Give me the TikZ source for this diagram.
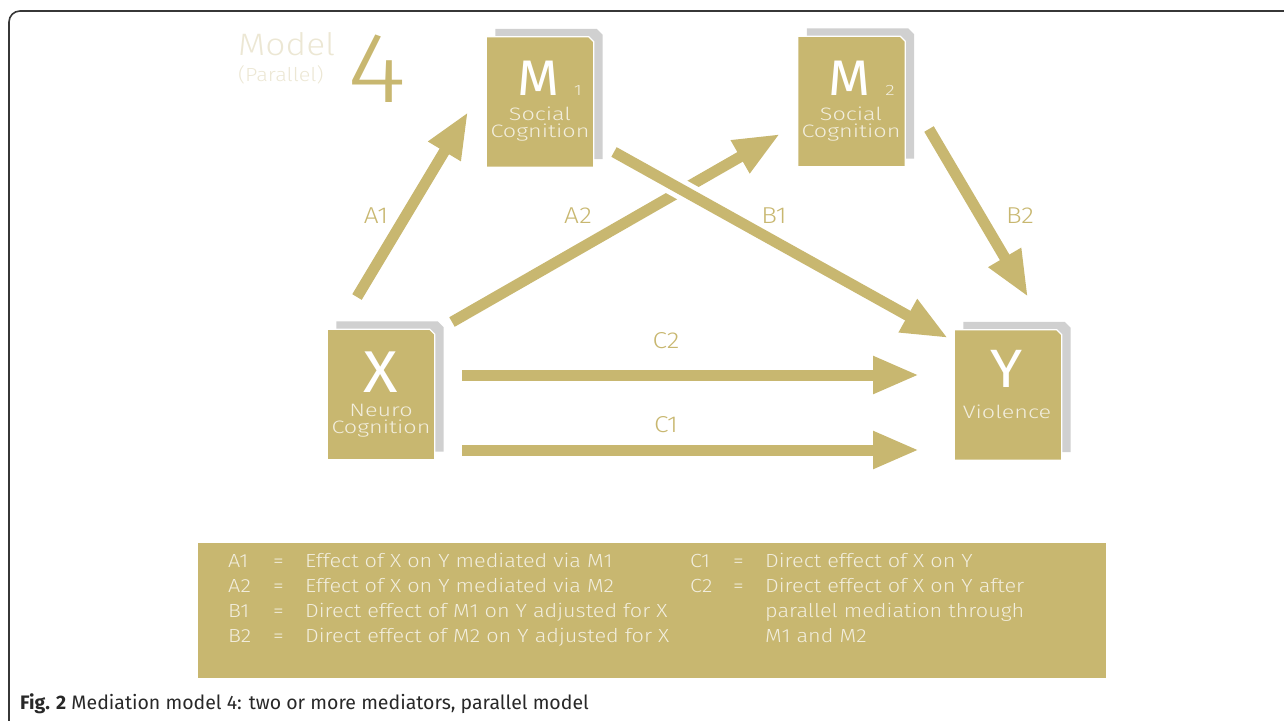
\documentclass[tikz,border=0pt]{standalone}
\usepackage{fontspec}
\setmainfont{Fira Sans Light}[FakeStretch=1.14]
\newfontfamily\capfont{Fira Sans}
\newfontfamily\bigfont{Fira Sans}[FakeStretch=1.08]
\newfontfamily\boxfont{Fira Sans Light}[FakeStretch=1.3]
\usetikzlibrary{arrows.meta}
\definecolor{gold}{RGB}{200,183,112}
\definecolor{shadowgray}{RGB}{208,208,208}
\definecolor{cream}{RGB}{242,238,222}
\definecolor{titlec}{RGB}{236,231,212}
\definecolor{framec}{RGB}{55,55,55}
\definecolor{capc}{RGB}{40,40,40}
\newcommand\bookbox[1]{%
  \fill[shadowgray] ([shift={(9,-8)}]#1.south west) -- ([shift={(9,-8)}]#1.north west)
    -- ([shift={(3,-8)}]#1.north east) -- ([shift={(9,-2)}]#1.north east)
    -- ([shift={(9,-8)}]#1.south east) -- cycle;
  \filldraw[fill=gold,draw=white,line width=1.2pt] (#1.south west) -- (#1.north west)
    -- ([shift={(-5,0)}]#1.north east) -- ([shift={(0,5)}]#1.north east)
    -- (#1.south east) -- cycle;}
\begin{document}
\begin{tikzpicture}[x=1pt,y=-1pt,
  boxnode/.style={rectangle,minimum width=107pt,minimum height=130pt,inner sep=0pt},
  big/.style={anchor=base,text=white,inner sep=0pt},
  small/.style={anchor=base,text=cream,font=\boxfont\fontsize{18}{19}\selectfont,inner sep=0pt},
  arr/.style={draw=gold,line width=11pt,-{Triangle[length=46pt,width=35pt]}},
  lab/.style={anchor=base,text=gold,font=\fontsize{23}{25}\selectfont,inner sep=0pt},
  leg/.style={anchor=base west,text=cream,font=\fontsize{19}{20}\selectfont,inner sep=0pt}]
\useasboundingbox (0,0) rectangle (1284,720);
% frame
\draw[framec,line width=1.6pt,rounded corners=11pt] (9,722) -- (9,11) -- (1290,11);
% title
\node[anchor=base west,text=titlec,font=\fontsize{31}{34}\selectfont,inner sep=0pt] (ttl) at (238,55) {Model};
\node[anchor=base west,text=titlec,font=\fontsize{19}{22}\selectfont,inner sep=0pt] (ttl2) at (238,81) {(Parallel)};
\node[anchor=base west,text=gold,font=\fontsize{100}{100}\selectfont,inner sep=0pt] (four) at (347,102) {4};
% boxes
\node[boxnode] (M1) at (540,102) {};
\node[boxnode] (M2) at (851.5,101.5) {};
\node[boxnode] (X) at (381,394.5) {};
\node[boxnode] (Y) at (1008,395) {};
\bookbox{M1}\bookbox{M2}\bookbox{X}\bookbox{Y}
% box texts
\node[big,font=\bigfont\fontsize{50}{50}\selectfont] (M1a) at (538,95) {M};
\node[small,font=\boxfont\fontsize{15}{16}\selectfont] (M1b) at (578,95) {1};
\node[small] (M1c) at (540,120) {Social};
\node[small] (M1d) at (540,137) {Cognition};
\node[big,font=\bigfont\fontsize{50}{50}\selectfont] (M2a) at (849,95) {M};
\node[small,font=\boxfont\fontsize{15}{16}\selectfont] (M2b) at (890,95) {2};
\node[small] (M2c) at (851,120) {Social};
\node[small] (M2d) at (851,137) {Cognition};
\node[big,font=\bigfont\fontsize{59}{59}\selectfont] (Xa) at (381,392) {X};
\node[small] (Xb) at (381,416) {Neuro};
\node[small] (Xc) at (381,433) {Cognition};
\node[big,font=\bigfont\fontsize{54}{54}\selectfont] (Ya) at (1007,387) {Y};
\node[small] (Yb) at (1007,418) {Violence};
% arrow end points
\coordinate (a1s) at (357,297); \coordinate (a1e) at (468,112);
\coordinate (a2s) at (452,322); \coordinate (a2e) at (780,134);
\coordinate (b1s) at (614,152); \coordinate (b1e) at (948,338);
\coordinate (b2s) at (929,129); \coordinate (b2e) at (1028,297);
\coordinate (c2s) at (462,375); \coordinate (c2e) at (919,375);
\coordinate (c1s) at (462,450); \coordinate (c1e) at (919,450);
\draw[arr] (a1s) -- (a1e);
\draw[arr] (a2s) -- (a2e);
\draw[white,line width=21pt,shorten <=30pt,shorten >=90pt] (b1s) -- (b1e);
\draw[arr] (b1s) -- (b1e);
\draw[arr] (b2s) -- (b2e);
\draw[arr] (c2s) -- (c2e);
\draw[arr] (c1s) -- (c1e);
% labels
\node[lab] (la1) at (376,223) {A1};
\node[lab] (la2) at (578,223) {A2};
\node[lab] (lb1) at (774,223) {B1};
\node[lab] (lb2) at (1020,223) {B2};
\node[lab] (lc2) at (666,348) {C2};
\node[lab] (lc1) at (666,432) {C1};
% legend
\fill[gold] (198,543) rectangle (1106,678);
\node[leg] (k1) at (228,567) {A1};
\node[leg] (e1) at (273,567) {=};
\node[leg] (t1) at (305,567) {Effect of X on Y mediated via M1};
\node[leg] (k2) at (228,592) {A2};
\node[leg] (e2) at (273,592) {=};
\node[leg] (t2) at (305,592) {Effect of X on Y mediated via M2};
\node[leg] (k3) at (228,617) {B1};
\node[leg] (e3) at (273,617) {=};
\node[leg] (t3) at (305,617) {Direct effect of M1 on Y adjusted for X};
\node[leg] (k4) at (228,642) {B2};
\node[leg] (e4) at (273,642) {=};
\node[leg] (t4) at (305,642) {Direct effect of M2 on Y adjusted for X};
\node[leg] (k5) at (690,567) {C1};
\node[leg] (e5) at (733,567) {=};
\node[leg] (t5) at (765,567) {Direct effect of X on Y};
\node[leg] (k6) at (690,592) {C2};
\node[leg] (e6) at (733,592) {=};
\node[leg] (t6) at (765,592) {Direct effect of X on Y after};
\node[leg] (t7) at (765,617) {parallel mediation through};
\node[leg] (t8) at (765,642) {M1 and M2};
% caption
\node[anchor=base west,text=capc,font=\capfont\fontsize{19.5}{21}\selectfont,inner sep=0pt] (cap) at (20,709) {\textbf{Fig. 2} Mediation model 4: two or more mediators, parallel model};
\end{tikzpicture}
\end{document}
